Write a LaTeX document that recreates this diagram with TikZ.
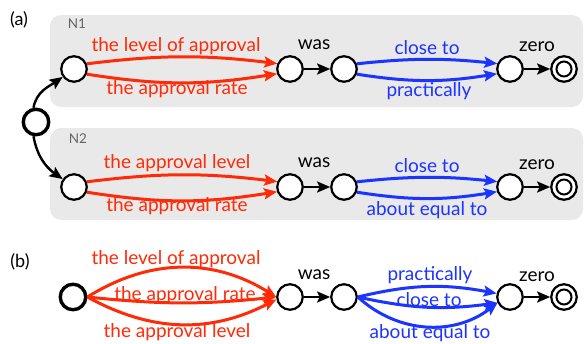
\documentclass[tikz,border=0pt]{standalone}
\usepackage{fontspec}
\setmainfont{Lato}
\usetikzlibrary{arrows.meta}
\definecolor{pathred}{RGB}{255,42,8}
\definecolor{pathblue}{RGB}{28,52,255}
\definecolor{panel}{RGB}{233,233,233}
\definecolor{paneltext}{RGB}{100,100,100}
\tikzset{
  x=1pt, y=-1pt,
  state/.style={circle, draw, line width=2.2pt, minimum size=25.5pt, inner sep=0pt, fill=white},
  startstate/.style={state, line width=3.4pt},
  tip/.style={-{Stealth[length=13pt,width=11pt,inset=2.5pt]}},
  blackarr/.style={tip, line width=2.4pt, black},
  redarr/.style={tip, line width=3pt, pathred},
  bluearr/.style={tip, line width=3pt, pathblue},
  lbl/.style={font=\fontsize{19}{19}\selectfont, inner sep=0pt},
  redlbl/.style={lbl, text=pathred},
  bluelbl/.style={lbl, text=pathblue},
  panelbox/.style={fill=panel, rounded corners=11pt},
  paneltag/.style={font=\fontsize{13.5}{13.5}\selectfont, text=paneltext, inner sep=0pt},
  parttag/.style={font=\fontsize{18}{18}\selectfont, inner sep=0pt},
}
\begin{document}
\begin{tikzpicture}
\useasboundingbox (0,0) rectangle (584,343);

% grey panels for the two networks
\fill[panelbox] (50,15) rectangle (583,107);
\fill[panelbox] (50,128) rectangle (583,220);
\node[paneltag] (tag1) at (77,24) {N1};
\node[paneltag] (tag2) at (78,139) {N2};

\node[parttag] (pa) at (19,20) {(a)};
\node[parttag] (pb) at (20,262) {(b)};

% ---- network N1 ----
\node[startstate] (s) at (36,122) {};
\node[state] (a1) at (74,69) {};
\node[state] (a2) at (290,69) {};
\node[state] (a3) at (344,69) {};
\node[state] (a4) at (510,69) {};
\node[state] (a5) at (564,69) {};
\draw[line width=2pt] (a5) circle (7.5pt);

\draw[blackarr] (s.100) to[out=80, in=215] (a1.215);
\draw[redarr] (a1.22) to[bend left=7] (a2.157);
\draw[redarr] (a1.-22) to[bend right=9] (a2.-160);
\draw[blackarr] (a2) -- (a3);
\draw[bluearr] (a3.22) to[bend left=6] (a4.157);
\draw[bluearr] (a3.-22) to[bend right=9] (a4.-160);
\draw[blackarr] (a4) -- (a5);

\node[redlbl] (la1) at (176,46) {the level of approval};
\node[redlbl] (la2) at (177,89) {the approval rate};
\node[lbl] (la3) at (314,45) {was};
\node[bluelbl] (la4) at (427,48) {close to};
\node[bluelbl] (la5) at (429,91) {practically};
\node[lbl] (la6) at (537,47) {zero};

% ---- network N2 ----
\node[state] (c1) at (74,187) {};
\node[state] (c2) at (290,187) {};
\node[state] (c3) at (344,187) {};
\node[state] (c4) at (510,187) {};
\node[state] (c5) at (564,187) {};
\draw[line width=2pt] (c5) circle (7.5pt);

\draw[blackarr] (s.260) to[out=-80, in=145] (c1.145);
\draw[redarr] (c1.22) to[bend left=7] (c2.157);
\draw[redarr] (c1.-22) to[bend right=9] (c2.-160);
\draw[blackarr] (c2) -- (c3);
\draw[bluearr] (c3.22) to[bend left=6] (c4.157);
\draw[bluearr] (c3.-22) to[bend right=9] (c4.-160);
\draw[blackarr] (c4) -- (c5);

\node[redlbl] (lc1) at (177,163) {the approval level};
\node[redlbl] (lc2) at (177,206) {the approval rate};
\node[lbl] (lc3) at (314,163) {was};
\node[bluelbl] (lc4) at (427,166) {close to};
\node[bluelbl] (lc5) at (427,210) {about equal to};
\node[lbl] (lc6) at (537,165) {zero};

% ---- merged network (b) ----
\node[startstate] (b1) at (73,297) {};
\node[state] (b2) at (290,297) {};
\node[state] (b3) at (344,297) {};
\node[state] (b4) at (510,297) {};
\node[state] (b5) at (564,297) {};
\draw[line width=2pt] (b5) circle (7.5pt);

\draw[redarr] (b1.east) to[bend left=32] (b2.west);
\draw[redarr] (b1.east) to[bend right=6] (b2.west);
\draw[redarr] (b1.east) to[bend right=28] (b2.-170);
\draw[blackarr] (b2) -- (b3);
\draw[bluearr] (b3.east) to[bend left=12] (b4.165);
\draw[bluearr] (b3.east) to[bend right=10] (b4.-155);
\draw[bluearr] (b3.east) to[bend right=40] (b4.-155);
\draw[blackarr] (b4) -- (b5);

\node[redlbl] (lb1) at (176,259) {the level of approval};
\node[redlbl] (lb2) at (185,295) {the approval rate};
\node[redlbl] (lb3) at (177,332) {the approval level};
\node[lbl] (lb4) at (314,275) {was};
\node[bluelbl] (lb5) at (430,275) {practically};
\node[bluelbl] (lb6) at (429,300) {close to};
\node[bluelbl] (lb7) at (430,333) {about equal to};
\node[lbl] (lb8) at (537,277) {zero};
\end{tikzpicture}
\end{document}
